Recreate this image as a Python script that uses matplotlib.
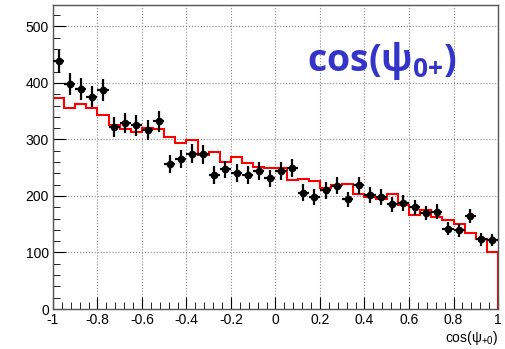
import numpy as np
import matplotlib.pyplot as plt

plt.rcParams['font.family'] = ['Liberation Sans', 'DejaVu Sans']
plt.rcParams['mathtext.fontset'] = 'custom'
plt.rcParams['mathtext.rm'] = 'Liberation Sans'
plt.rcParams['mathtext.it'] = 'Liberation Sans'
plt.rcParams['mathtext.bf'] = 'Open Sans:bold'

# 40 bins in cos(psi_0+) from -1 to 1
edges = np.linspace(-1, 1, 41)
centers = 0.5 * (edges[:-1] + edges[1:])

data = [438, 398, 389, 376, 388, 322, 329, 325, 317, 332,
        257, 265, 275, 274, 237, 247, 241, 237, 244, 231,
        244, 249, 206, 198, 210, 218, 194, 219, 202, 199,
        185, 188, 180, 170, 172, 142, 139, 165, 123, 122]

model = [373, 356, 362, 355, 344, 325, 318, 314, 320, 319,
         304, 293, 299, 272, 277, 260, 269, 258, 251, 249,
         249, 228, 230, 227, 215, 220, 221, 203, 198, 194,
         203, 184, 167, 175, 163, 157, 150, 135, 123, 101]

xticks = [-1, -0.8, -0.6, -0.4, -0.2, 0, 0.2, 0.4, 0.6, 0.8, 1]
xticklabels = ['-1', '-0.8', '-0.6', '-0.4', '-0.2', '0', '0.2', '0.4', '0.6', '0.8', '1']
yticks = [0, 100, 200, 300, 400, 500]

data = np.array(data)

fig = plt.figure(figsize=(5.06, 3.49), dpi=100)
ax = fig.add_axes([0.1047, 0.1146, 0.8795, 0.8711])

ax.stairs(model, edges, baseline=0, color='red', linewidth=1.5, zorder=2)
ax.errorbar(centers, data, yerr=np.sqrt(data), xerr=0.025, fmt='o', color='black',
            markersize=4.5, elinewidth=1.6, capsize=0, zorder=3)

ax.set_xlim(-1, 1)
ax.set_ylim(0, 538)
ax.set_xticks(xticks)
ax.set_xticklabels(xticklabels)
ax.set_yticks(yticks)
ax.set_xticks(np.arange(-1, 1.0001, 0.04), minor=True)
ax.set_yticks(np.arange(0, 538, 20), minor=True)
ax.tick_params(which='both', direction='in', top=False, right=False, labelsize=10, pad=3)
ax.tick_params(which='major', length=9)
ax.tick_params(which='minor', length=5)
ax.grid(True, which='major', linestyle=':', color='#888888', linewidth=0.8)
ax.set_axisbelow(True)
for s in ax.spines.values():
    s.set_color('#555555')
    s.set_linewidth(1.0)

ax.set_xlabel(r'cos($\psi_{+0}$)', loc='right', fontsize=10, labelpad=1)

ax.text(0.48, 438, r'$\mathbf{cos(\psi_{0{+}})}$', color='#3434c8', fontsize=27,
        ha='center', va='center')

fig.savefig('out.png', dpi=100)
